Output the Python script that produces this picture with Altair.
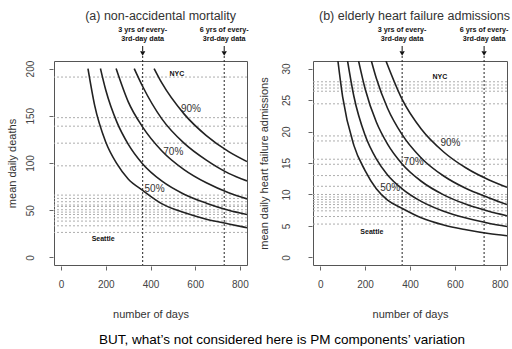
import altair as alt
import pandas as pd

FONT = "Liberation Sans"

days_ticks = [0, 200, 400, 600, 800]
x_domain = [-32, 832]
curve_names = ["50%", "60%", "70%", "80%", "90%"]
ann_x = [365, 730]
ann_text = ["3 yrs of every-\n3rd-day data", "6 yrs of every-\n3rd-day data"]

# ----- panel (a): non-accidental mortality -----
a_title = "(a) non-accidental mortality"
a_ytitle = "mean daily deaths"
a_y_domain = [-8, 208]
a_y_ticks = [0, 50, 100, 150, 200]
a_curve_x = [
    [120, 150, 200, 250, 300, 365, 450, 550, 650, 750, 832],
    [176, 200, 250, 300, 365, 450, 550, 650, 750, 832],
    [246, 300, 365, 450, 550, 650, 750, 832],
    [327, 365, 450, 550, 650, 750, 832],
    [416, 450, 550, 650, 750, 832],
]
a_curve_y = [
    [200, 161, 122, 99, 83, 71, 57, 47.5, 40.5, 35.5, 31.5],
    [200, 177, 143, 120, 99, 81, 67, 57.5, 50, 45.5],
    [200, 165, 138, 113, 93, 79, 68.5, 62],
    [200, 181, 147, 121, 103, 89, 81],
    [200, 185, 152, 129, 112, 101.5],
]
a_city_lines = [191, 148, 139, 121, 97, 66, 62.5, 59, 55.5, 54, 50.5, 48, 45.5,
                42, 38.5, 33.5, 26.5]
a_label_text = ["90%", "70%", "50%"]
a_label_x = [581, 502, 418]
a_label_y = [157, 111.5, 73]
a_city_text = ["NYC", "Seattle"]
a_city_x = [518, 188]
a_city_y = [194, 20]

# ----- panel (b): elderly heart failure admissions -----
b_title = "(b) elderly heart failure admissions"
b_ytitle = "mean daily heart failure admissions"
b_y_domain = [-1.2, 31.2]
b_y_ticks = [0, 5, 10, 15, 20, 25, 30]
b_curve_x = [
    [79, 100, 150, 200, 250, 300, 365, 450, 550, 650, 750, 832],
    [122, 150, 200, 250, 300, 365, 450, 550, 650, 750, 832],
    [171, 200, 250, 300, 365, 450, 550, 650, 750, 832],
    [228, 250, 300, 365, 450, 550, 650, 750, 832],
    [293, 365, 450, 550, 650, 750, 832],
]
b_curve_y = [
    [31.2, 25.5, 17.8, 13.8, 10.9, 9.1, 7.8, 6.3, 5.15, 4.4, 3.8, 3.45],
    [31.2, 25.6, 19.4, 15.65, 13.1, 10.9, 8.9, 7.33, 6.25, 5.44, 4.92],
    [31.2, 26.8, 21.5, 18.0, 14.85, 12.1, 9.94, 8.44, 7.34, 6.63],
    [31.2, 28.45, 23.7, 19.5, 15.8, 12.93, 10.94, 9.49, 8.4],
    [31.2, 25.1, 20.4, 16.75, 14.2, 12.34, 11.14],
]
b_city_lines = [27.9, 27.4, 26.9, 26.4, 24.4, 19.3, 18.5, 15.6, 14.8, 13.0, 11.3,
                10.0, 9.6, 9.2, 8.8, 8.4, 7.9, 7.4, 6.5, 5.3]
b_label_text = ["90%", "70%", "50%"]
b_label_x = [580, 416, 312]
b_label_y = [18.2, 15.1, 11.1]
b_city_text = ["NYC", "Seattle"]
b_city_x = [533, 230]
b_city_y = [28.7, 4.1]

footer = "BUT, what\u2019s not considered here is PM components\u2019 variation"

H = 204


def panel(title, tdx, ytitle, ydom, yticks, cxs, cys, hl, lt, lx, ly, ct, cx, cy,
          width, lab_pad, title_pad):
    X = alt.X("x:Q", scale=alt.Scale(domain=x_domain, nice=False, zero=False),
              axis=alt.Axis(values=days_ticks, title="number of days",
                            labelPadding=9, titlePadding=19))
    Y = alt.Y("y:Q", scale=alt.Scale(domain=ydom, nice=False, zero=False),
              axis=alt.Axis(values=yticks, title=ytitle, labelAngle=270,
                            labelAlign="center", labelBaseline="bottom",
                            labelPadding=lab_pad, titlePadding=title_pad))
    rows = []
    for n, xs, ys in zip(curve_names, cxs, cys):
        for x, y in zip(xs, ys):
            rows.append({"c": n, "x": x, "y": y})
    curves_df = pd.DataFrame(rows)
    hl_df = pd.DataFrame({"y": hl})
    vl_df = pd.DataFrame({"x": ann_x, "t": ann_text})
    lab_df = pd.DataFrame({"x": lx, "y": ly, "t": lt})
    city_df = pd.DataFrame({"x": cx, "y": cy, "t": ct})

    hlines = alt.Chart(hl_df).mark_rule(color="#adadad", strokeDash=[2, 2],
                                        strokeWidth=1).encode(y=Y)
    vlines = alt.Chart(vl_df).mark_rule(color="#222", strokeDash=[2, 2],
                                        strokeWidth=1).encode(
        x=X, y=alt.value(-5), y2=alt.value(H))
    shafts = alt.Chart(vl_df).mark_rule(color="#111", strokeWidth=1).encode(
        x=X, y=alt.value(-15), y2=alt.value(-10))
    heads = alt.Chart(vl_df).mark_point(shape="triangle-down", filled=True,
                                        size=28, color="#111", opacity=1).encode(
        x=X, y=alt.value(-7.5))
    ann = alt.Chart(vl_df).mark_text(fontSize=7.2, fontWeight="bold",
                                     lineBreak="\n", baseline="alphabetic",
                                     color="#111", lineHeight=9.5).encode(
        x=X, y=alt.value(-29.5), text="t:N")
    curves = alt.Chart(curves_df).mark_line(color="#222", strokeWidth=1.6,
                                            interpolate="monotone", clip=True).encode(
        x=X, y=Y, detail="c:N")
    labs = alt.Chart(lab_df).mark_text(fontSize=10, color="#333").encode(
        x=X, y=Y, text="t:N")
    cities = alt.Chart(city_df).mark_text(fontSize=7, fontWeight="bold",
                                          color="#111").encode(
        x=X, y=Y, text="t:N")
    return alt.layer(hlines, vlines, shafts, heads, ann, curves, labs, cities).properties(
        width=width, height=H,
        title=alt.TitleParams(title, fontSize=12.5, fontWeight="normal",
                              color="#333", anchor="middle", frame="group",
                              dx=tdx, offset=-9.5, baseline="bottom"))


pa = panel(a_title, 10, a_ytitle, a_y_domain, a_y_ticks, a_curve_x, a_curve_y,
           a_city_lines, a_label_text, a_label_x, a_label_y, a_city_text,
           a_city_x, a_city_y, 193, 14, 8)
pb = panel(b_title, 4.5, b_ytitle, b_y_domain, b_y_ticks, b_curve_x, b_curve_y,
           b_city_lines, b_label_text, b_label_x, b_label_y, b_city_text,
           b_city_x, b_city_y, 194, 17, 12)

chart = alt.HConcatChart(hconcat=[pa, pb], spacing=66, bounds="flush").properties(
    title=alt.TitleParams(footer, orient="bottom", anchor="middle", fontSize=13.5,
                          fontWeight="normal", color="#000", offset=13,
                          baseline="top", frame="group", dx=228),
    padding={"left": 5, "top": 9, "right": 0, "bottom": 0},
).configure(font=FONT).configure_view(
    stroke="#555", strokeWidth=1
).configure_axis(
    domain=False, grid=False, tickSize=4, offset=1, tickColor="#666",
    labelFontSize=10, labelColor="#444", titleFontSize=11, titleColor="#333",
    titleFontWeight="normal", labelFont=FONT, titleFont=FONT
)

chart.save("out.html", embed_options={"renderer": "svg", "actions": False})
